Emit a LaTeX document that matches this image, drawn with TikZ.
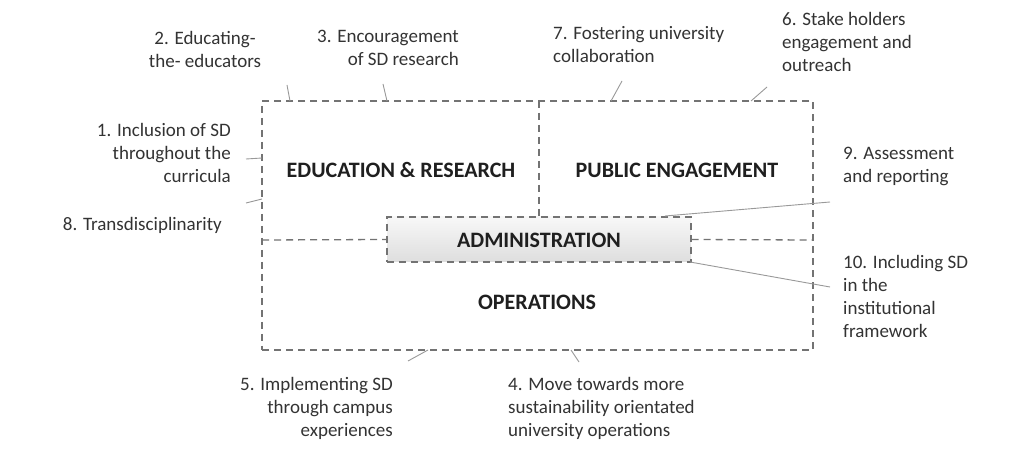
\documentclass[tikz,border=0pt]{standalone}
\usepackage{fontspec}
\setmainfont{Carlito}
\begin{document}
\begin{tikzpicture}[x=1pt,y=-1pt,
  lbl/.style={inner sep=0pt,text=black!80,font=\fontsize{19}{23}\selectfont},
  boxlbl/.style={inner sep=0pt,text=black!88,font=\fontsize{22}{24}\selectfont\bfseries},
  dashline/.style={draw=black!55,line width=1.3pt,dash pattern=on 7pt off 5pt},
  tick/.style={draw=black!40,line width=0.9pt}]
\useasboundingbox (0,0) rectangle (1023,454);
\fill[white] (0,0) rectangle (1023,454);
% main frame
\node[dashline,minimum width=551pt,minimum height=249pt,inner sep=0pt] (main) at (537.5,225.5) {};
% administration box
\node[dashline,minimum width=304pt,minimum height=45pt,inner sep=0pt,
  top color=black!3,bottom color=black!13] (admin) at (539,239.5) {};
\node[boxlbl] (admintxt) at (539,240) {ADMINISTRATION};
% dividers
\coordinate (divtop) at (539,101);
\coordinate (lmid) at (262,240);
\coordinate (rmid) at (813,240);
\draw[dashline] (divtop) -- (admin.north);
\draw[dashline] (lmid) -- (admin.west);
\draw[dashline] (admin.east) -- (rmid);
% box texts
\node[boxlbl] (edu) at (401,170) {EDUCATION \& RESEARCH};
\node[boxlbl] (pub) at (677,170) {PUBLIC ENGAGEMENT};
\node[boxlbl] (ops) at (537,302) {OPERATIONS};
% labels
\node[lbl,anchor=east,align=right] (l1) at (231,153) {1. Inclusion of SD\\throughout the\\curricula};
\node[lbl,anchor=east] (l8) at (222,225) {8. Transdisciplinarity};
\node[lbl,align=center] (l2) at (205,49) {2. Educating-\\the- educators};
\node[lbl,anchor=east,align=right] (l3) at (459,48) {3. Encouragement\\of SD research};
\node[lbl,anchor=west,align=left] (l7) at (553,45) {7. Fostering university\\collaboration};
\node[lbl,anchor=west,align=left] (l6) at (782,42) {6. Stake holders\\engagement and\\outreach};
\node[lbl,anchor=west,align=left] (l9) at (843,166) {9. Assessment\\and reporting};
\node[lbl,anchor=west,align=left] (l10) at (843,296) {10. Including SD\\in the\\institutional\\framework};
\node[lbl,anchor=east,align=right] (l5) at (393,408) {5. Implementing SD\\through campus\\experiences};
\node[lbl,anchor=west,align=left] (l4) at (508,408) {4. Move towards more\\sustainability orientated\\university operations};
% tick coordinates
\coordinate (t2a) at (287,85);  \coordinate (t2b) at (290,101);
\coordinate (t3a) at (383,84);  \coordinate (t3b) at (387,101);
\coordinate (t7a) at (622,81);  \coordinate (t7b) at (611,101);
\coordinate (t6a) at (767,87);  \coordinate (t6b) at (751,101);
\coordinate (t1a) at (246,159); \coordinate (t1b) at (262,158);
\coordinate (t8a) at (246,203); \coordinate (t8b) at (262,199);
\coordinate (t9a) at (665,216); \coordinate (t9b) at (830,202);
\coordinate (t10a) at (690,262); \coordinate (t10b) at (830,287);
\coordinate (t5a) at (408,361); \coordinate (t5b) at (428,350);
\coordinate (t4a) at (571,350); \coordinate (t4b) at (579,362);
\foreach \t in {t2,t3,t7,t6,t1,t8,t9,t10,t5,t4}{\draw[tick] (\t a) -- (\t b);}
\end{tikzpicture}
\end{document}
